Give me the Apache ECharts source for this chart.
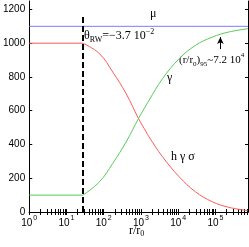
<!DOCTYPE html>
<html><head><meta charset="utf-8">
<script src="https://cdn.jsdelivr.net/npm/echarts@6/dist/echarts.min.js"></script>
<style>html,body{margin:0;padding:0;background:#fff}#c{width:249px;height:247px}</style>
</head><body><div id="c"></div>
<script>
// ---- data ----
const rFlat = [1, 27.8];
const redFlat = [1000, 1000];
const greenFlat = [100, 100];
const rCurve = [27.8, 77, 175, 400, 860, 1375, 1650, 3800, 10600, 29000, 82000, 226000, 750000];
const redCurve = [1000, 938, 829, 701, 554, 475, 445, 327, 209, 120, 61, 28, 8];
const greenCurve = [100, 179, 288, 415, 554, 632, 662, 790, 908, 987, 1036, 1066, 1086];
const muR = [1, 750000];
const muVal = [1100, 1100];
const thetaR = [27.8, 27.8];
const thetaY = [0, 1165];
const arrowR = 136000;
const arrowY = [965, 1036];
const yTicks = [0, 200, 400, 600, 800, 1000, 1200];
const xMajor = [1, 10, 100, 1000, 10000, 100000];
const xRange = [1, 750000];
const yRange = [0, 1250];

const xMinor = [];
for (let d = 0; d < 6; d++) for (let k = 1; k <= 9; k++) {
  const v = k * Math.pow(10, d);
  if (v <= xRange[1]) xMinor.push(v);
}
const pairs = (xs, ys) => xs.map((x, i) => [x, ys[i]]);

const RED = '#ff5a5a', GREEN = '#5ac85a', BLUE = '#7b7bff';
const SERIF = 'Liberation Serif', SANS = 'Liberation Sans';

const chart = echarts.init(document.getElementById('c'), null, {renderer: 'canvas'});
const axLine = {show: true, lineStyle: {color: '#000', width: 1}};
const xBase = {
  type: 'log', logBase: 10, min: xRange[0], max: xRange[1],
  axisLine: axLine, splitLine: {show: false},
  axisTick: {show: true, inside: true, length: 3, lineStyle: {color: '#000'}, customValues: xMinor},
};
const yBase = {
  type: 'value', min: yRange[0], max: yRange[1],
  axisLine: axLine, splitLine: {show: false},
  axisTick: {show: true, inside: true, length: 3, lineStyle: {color: '#000'}, customValues: yTicks},
};
chart.setOption({
  animation: false,
  grid: {left: 27, right: 1, top: 1, bottom: 35},
  xAxis: [
    Object.assign({}, xBase, {position: 'bottom',
      axisLabel: {customValues: xMajor, margin: 3,
        formatter: v => '{b|10}{s|' + Math.round(Math.log10(v)) + '}',
        rich: {b: {fontFamily: SANS, fontSize: 10, color: '#000', lineHeight: 16},
               s: {fontFamily: SANS, fontSize: 7, color: '#000', lineHeight: 8, verticalAlign: 'top', padding: [0, 0, 0, 1]}}}}),
    Object.assign({}, xBase, {position: 'top', axisLabel: {show: false}})
  ],
  yAxis: [
    Object.assign({}, yBase, {position: 'left',
      axisLabel: {customValues: yTicks, margin: 4, fontFamily: SANS, fontSize: 10, color: '#000',
        formatter: v => String(v)}}),
    Object.assign({}, yBase, {position: 'right', axisLabel: {show: false}})
  ],
  series: [
    {type: 'line', data: pairs(muR, muVal), symbol: 'none', lineStyle: {color: BLUE, width: 1}},
    {type: 'line', data: pairs(rFlat, redFlat), symbol: 'none', lineStyle: {color: RED, width: 1}},
    {type: 'line', data: pairs(rCurve, redCurve), symbol: 'none', smooth: 0.4, lineStyle: {color: RED, width: 1}},
    {type: 'line', data: pairs(rFlat, greenFlat), symbol: 'none', lineStyle: {color: GREEN, width: 1}},
    {type: 'line', data: pairs(rCurve, greenCurve), symbol: 'none', smooth: 0.4, lineStyle: {color: GREEN, width: 1}},
    {type: 'line', data: pairs(thetaR, thetaY), symbol: 'none', z: 5,
      lineStyle: {color: '#000', width: 2, type: [6, 3]}},
    {type: 'line', data: [], symbol: 'none',
      markLine: {silent: true, symbol: ['none', 'arrow'], symbolSize: [5, 7], label: {show: false},
        lineStyle: {color: '#000', width: 1, type: 'solid'},
        data: [[{coord: [arrowR, arrowY[0]]}, {coord: [arrowR, arrowY[1]]}]]}}
  ],
  graphic: [
    {type: 'text', x: 150, y: 14, style: {text: 'μ', font: '12px ' + SERIF, fill: '#000', verticalAlign: 'middle'}},
    {type: 'text', x: 84, y: 28, style: {
      text: '{t|θ}{sub|RW}{t|=−3.7 10}{sup|−2}', verticalAlign: 'top',
      rich: {t: {fontFamily: SERIF, fontSize: 12, lineHeight: 16, fill: '#000'},
             sub: {fontFamily: SERIF, fontSize: 8, lineHeight: 8, verticalAlign: 'bottom', fill: '#000'},
             sup: {fontFamily: SERIF, fontSize: 8, lineHeight: 8, verticalAlign: 'top', fill: '#000'}}}},
    {type: 'text', x: 167, y: 78, style: {text: 'γ', font: '12px ' + SERIF, fill: '#000', verticalAlign: 'middle'}},
    {type: 'text', x: 179, y: 52, style: {
      text: '{t|(r/r}{sub|0}{t|)}{sub|95}{t|~7.2 10}{sup|4}', verticalAlign: 'top',
      rich: {t: {fontFamily: SERIF, fontSize: 11, lineHeight: 16, fill: '#000'},
             sub: {fontFamily: SERIF, fontSize: 7, lineHeight: 8, verticalAlign: 'bottom', fill: '#000'},
             sup: {fontFamily: SERIF, fontSize: 7, lineHeight: 8, verticalAlign: 'top', fill: '#000'}}}},
    {type: 'text', x: 171, y: 157, style: {text: 'h γ σ', font: '12px ' + SERIF, fill: '#000', verticalAlign: 'middle'}},
    {type: 'text', x: 129, y: 224, style: {
      text: '{t|r/r}{sub|0}', verticalAlign: 'top',
      rich: {t: {fontFamily: SERIF, fontSize: 12, lineHeight: 14, fill: '#000'},
             sub: {fontFamily: SERIF, fontSize: 8, lineHeight: 8, verticalAlign: 'bottom', fill: '#000'}}}}
  ]
});
</script></body></html>
